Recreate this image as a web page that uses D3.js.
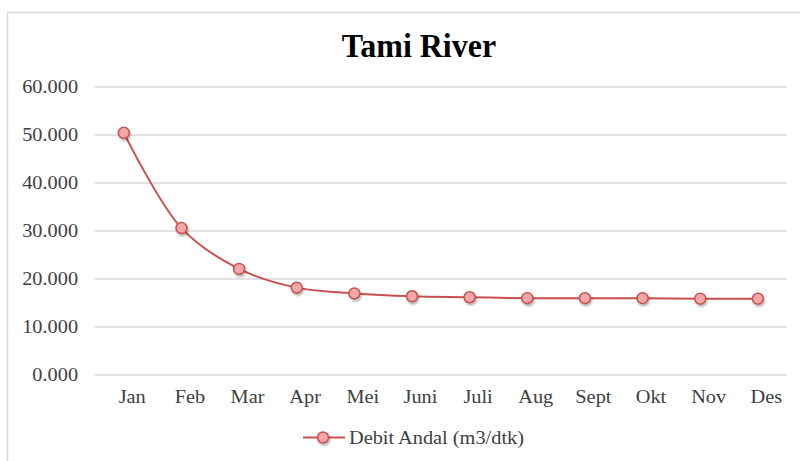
<!DOCTYPE html>
<html>
<head>
<meta charset="utf-8">
<script src="https://cdn.jsdelivr.net/npm/d3@7"></script>
<style>
  html, body { margin: 0; padding: 0; background: #fff; }
  svg { display: block; font-family: "Liberation Serif", "Times New Roman", serif; }
</style>
</head>
<body>
<svg id="chart" width="800" height="461"></svg>
<script>
// data
const months = ['Jan', 'Feb', 'Mar', 'Apr', 'Mei', 'Juni', 'Juli', 'Aug', 'Sept', 'Okt', 'Nov', 'Des'];
const debit = [50.45, 30.6, 22.1, 18.2, 17.0, 16.4, 16.2, 16.0, 16.0, 16.0, 15.9, 15.9];
const yTicks = [0, 10, 20, 30, 40, 50, 60];
const chartTitle = 'Tami River';
const seriesName = 'Debit Andal (m3/dtk)';

const svg = d3.select('#chart');
const stretch = 1.13; // the source text looks a bit wider than plain Times

const lineColor = '#c8504e';
const markerFill = '#f4a7a8';
const gridColor = '#d9d9d9';
const textColor = '#404040';

// drop shadow for the markers
const defs = svg.append('defs');
defs.append('filter')
    .attr('id', 'shadow')
    .attr('x', '-50%').attr('y', '-50%')
    .attr('width', '200%').attr('height', '200%')
  .append('feDropShadow')
    .attr('dx', 1).attr('dy', 2)
    .attr('stdDeviation', 1.3)
    .attr('flood-color', '#000')
    .attr('flood-opacity', 0.3);

// outer frame (runs past the right and bottom edge)
svg.append('rect')
    .attr('x', 7.5).attr('y', 12.5)
    .attr('width', 820).attr('height', 500)
    .attr('fill', 'none')
    .attr('stroke', gridColor)
    .attr('stroke-width', 1.5);

const x = d3.scalePoint()
    .domain(months)
    .range([95, 786.7])
    .padding(0.5);

const y = d3.scaleLinear()
    .domain([0, 60])
    .range([375, 87]);

// title
svg.append('text')
    .attr('transform', `translate(419,57) scale(1,1.08)`)
    .attr('text-anchor', 'middle')
    .attr('font-weight', 'bold')
    .attr('font-size', 32)
    .attr('fill', '#000')
    .text(chartTitle);

// gridlines
svg.append('g')
  .selectAll('line')
  .data(yTicks)
  .join('line')
    .attr('x1', 95).attr('x2', 786.7)
    .attr('y1', d => y(d)).attr('y2', d => y(d))
    .attr('stroke', gridColor)
    .attr('stroke-width', 1.5);

// y axis labels
const yAxis = svg.append('g')
    .attr('transform', 'translate(95,0)')
    .call(d3.axisLeft(y).tickValues(yTicks).tickSize(0).tickPadding(15).tickFormat(d3.format('.3f')))
    .attr('font-family', null)
    .attr('font-size', null);
yAxis.select('.domain').remove();
yAxis.selectAll('text')
    .attr('font-size', 18)
    .attr('fill', textColor)
    .attr('transform', `scale(${stretch},1)`);

// x axis labels
const xAxis = svg.append('g')
    .attr('transform', `translate(0,${y(0)})`)
    .call(d3.axisBottom(x).tickSize(0))
    .attr('font-family', null)
    .attr('font-size', null);
xAxis.select('.domain').remove();
xAxis.selectAll('text')
    .attr('font-size', 18)
    .attr('fill', textColor)
    .attr('x', 7)
    .attr('y', 28)
    .attr('dy', 0)
    .attr('transform', `scale(${stretch},1)`);

// line
const line = d3.line()
    .x((d, i) => x(months[i]))
    .y(d => y(d))
    .curve(d3.curveCatmullRom.alpha(0.5));

svg.append('path')
    .datum(debit)
    .attr('d', line)
    .attr('fill', 'none')
    .attr('stroke', lineColor)
    .attr('stroke-width', 2);

// markers
svg.append('g')
    .attr('filter', 'url(#shadow)')
  .selectAll('circle')
  .data(debit)
  .join('circle')
    .attr('cx', (d, i) => x(months[i]))
    .attr('cy', d => y(d))
    .attr('r', 5.5)
    .attr('fill', markerFill)
    .attr('stroke', lineColor)
    .attr('stroke-width', 1.5);

// legend
const legend = svg.append('g').attr('transform', 'translate(303,437.5)');
legend.append('line')
    .attr('x1', 0).attr('x2', 42)
    .attr('stroke', lineColor)
    .attr('stroke-width', 2);
legend.append('circle')
    .attr('cx', 20).attr('r', 5.5)
    .attr('fill', markerFill)
    .attr('stroke', lineColor)
    .attr('stroke-width', 1.5)
    .attr('filter', 'url(#shadow)');
legend.append('text')
    .attr('transform', `translate(46,6) scale(${stretch},1)`)
    .attr('font-size', 18)
    .attr('fill', textColor)
    .text(seriesName);
</script>
</body>
</html>
